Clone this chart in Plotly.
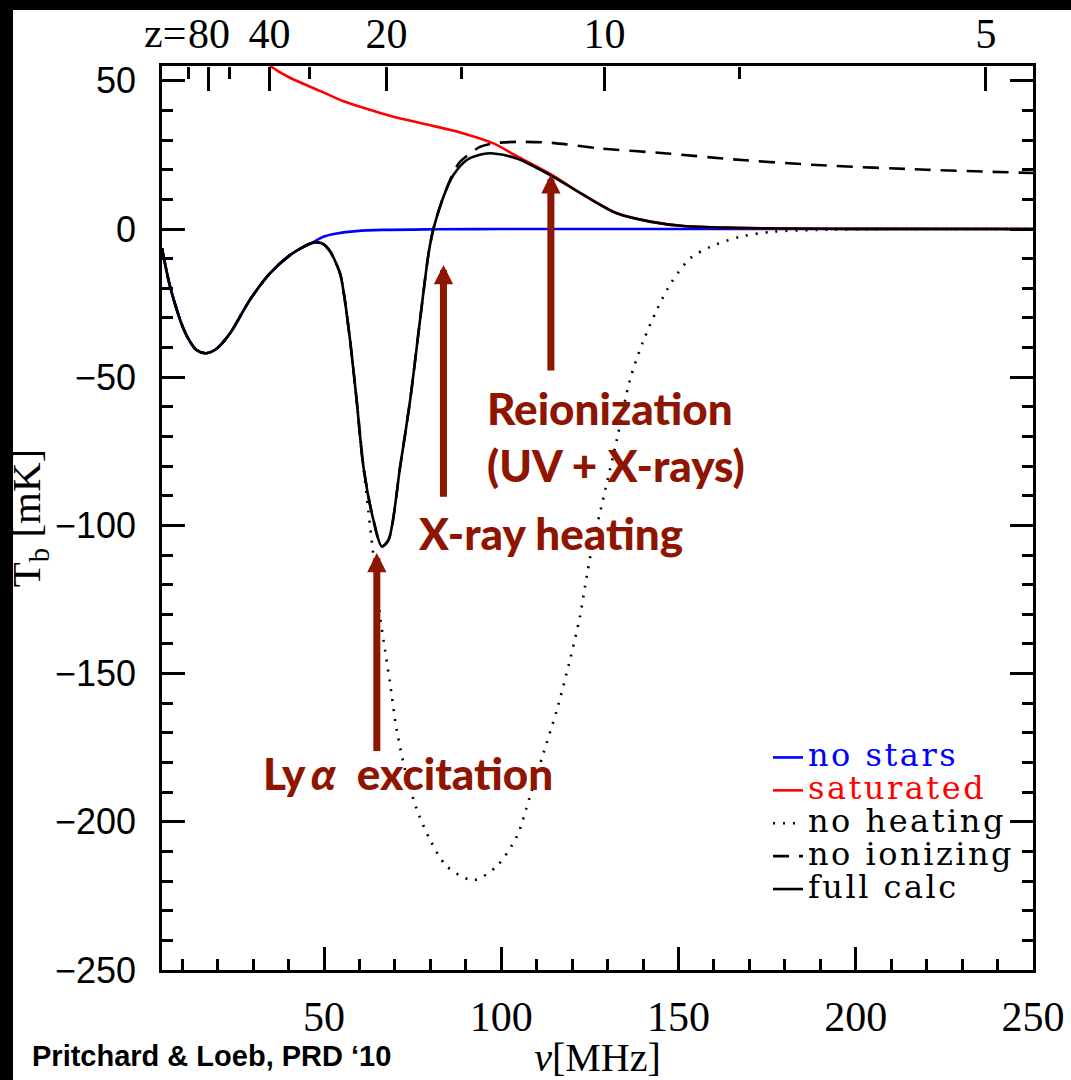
import plotly.graph_objects as go

# ---------------- data ----------------
# full calculation (black solid)
nu_full = [4.3, 6.6, 10.3, 12.2, 14.0, 16.7, 19.7, 23.5, 29.1, 34.8, 40.4, 44.2, 47.0, 49.5,
           51.7, 54.5, 55.5, 57.3, 59.2, 61.1, 63.9, 66.3, 68.2, 71.5, 74.3, 77.2,
           79.5, 80.9, 83.7, 86.5, 90.3, 94.9, 97.8, 104.4, 113.8, 123.2, 132.6,
           142.0, 151.4, 165.5, 180.0, 200.0, 250.0]
T_full = [-6.5, -19.5, -33.5, -38.0, -40.8, -41.9, -40.4, -35.2, -23.9, -14.9, -8.8, -6.0, -4.6, -4.9,
          -7.5, -14.9, -21.0, -37.0, -57.7, -80.0, -98.0, -107.1, -104.9, -80.0, -57.7, -29.6,
          -8.2, 0.2, 10.9, 18.2, 23.3, 25.3, 25.5, 23.8, 18.2, 11.5, 5.3,
          2.5, 1.0, 0.4, 0.15, 0.05, 0.0]

# no stars (blue)
nu_nostars = [4.3, 6.6, 10.3, 12.2, 14.0, 16.7, 19.7, 23.5, 29.1, 34.8, 40.4, 44.2, 47.0,
              49.8, 53.6, 59.2, 66.7, 80.9, 100.0, 150.0, 250.0]
T_nostars = [-6.5, -19.5, -33.5, -38.0, -40.8, -41.9, -40.4, -35.2, -23.9, -14.9, -8.8, -6.0, -4.4,
             -2.6, -1.5, -0.7, -0.3, -0.1, 0.0, 0.0, 0.0]

# saturated (red)
nu_sat = [34.8, 37.0, 40.0, 43.0, 46.1, 50.0, 55.5, 62.0, 69.6, 80.0, 88.4, 97.8, 104.4, 113.8,
          123.2, 132.6, 142.0, 151.4, 165.5, 180.0, 200.0, 250.0]
T_sat = [55.0, 53.3, 51.3, 49.6, 48.0, 46.0, 43.1, 40.6, 37.9, 35.0, 32.6, 28.9, 24.6, 18.6,
         11.5, 5.3, 2.5, 1.0, 0.4, 0.15, 0.05, 0.0]

# no heating (dotted)
nu_noheat = [4.3, 6.6, 10.3, 12.2, 14.0, 16.7, 19.7, 23.5, 29.1, 34.8, 40.4, 44.2, 47.0, 49.5,
             51.7, 54.5, 55.5, 57.3, 59.2, 61.1, 62.5, 63.9, 65.8, 67.2, 68.6, 70.5,
             73.3, 76.2, 79.9, 84.6, 92.1, 98.7, 104.4, 108.1, 111.9, 115.7, 119.4,
             122.2, 124.1, 125.5, 132.6, 136.3, 140.0, 144.0, 148.0, 153.3, 159.0,
             167.4, 176.7, 189.0, 210.0, 250.0]
T_noheat = [-6.5, -19.5, -33.5, -38.0, -40.8, -41.9, -40.4, -35.2, -23.9, -14.9, -8.8, -6.0, -4.6, -4.9,
            -7.5, -14.9, -21.0, -37.0, -57.7, -80.0, -95.0, -110.0, -130.7, -142.0, -153.0, -169.0,
            -184.6, -195.9, -206.0, -215.0, -219.7, -215.0, -204.9, -191.4, -176.8, -162.2, -145.3,
            -130.7, -117.2, -108.2, -71.1, -50.9, -38.0, -27.0, -18.0, -9.9, -6.0,
            -2.6, -0.9, -0.3, 0.0, 0.0]

# no ionizing (dashed)
nu_noion = [4.3, 6.6, 10.3, 12.2, 14.0, 16.7, 19.7, 23.5, 29.1, 34.8, 40.4, 44.2, 47.0, 49.5,
            51.7, 54.5, 55.5, 57.3, 59.2, 61.1, 63.9, 66.3, 68.2, 71.5, 74.3, 77.2,
            79.5, 80.9, 83.7, 86.5, 88.4, 94.0, 97.8, 104.4, 113.8, 127.9, 146.7,
            165.5, 189.0, 220.0, 250.0]
T_noion = [-6.5, -19.5, -33.5, -38.0, -40.8, -41.9, -40.4, -35.2, -23.9, -14.9, -8.8, -6.0, -4.6, -4.9,
           -7.5, -14.9, -21.0, -37.0, -57.7, -80.0, -98.0, -107.1, -104.9, -80.0, -57.7, -29.6,
           -8.2, 0.2, 11.0, 19.0, 22.7, 27.7, 28.9, 29.4, 29.1, 27.2, 25.5,
           23.5, 21.6, 20.0, 18.9]

# axes / ticks
x_tick_vals = [50, 100, 150, 200, 250]
y_tick_vals = [-250, -200, -150, -100, -50, 0, 50]
z_major = [80, 40, 20, 10, 5]
z_major_labels = ["80", "40", "20", "10", "5"]
z_minor = [120, 60, 30, 15, 7.5]

# arrows: (x, tip y, tail y)
arrow_lya = (64.9, -109.3, -176.6)
arrow_xray = (83.7, -12.1, -90.8)
arrow_reion = (114.0, 18.5, -48.2)

NU_MIN, NU_MAX = 4.3, 250
T_MIN, T_MAX = -250, 55
NU21 = 1420.4


def z_to_nu(z):
    return NU21 / (1.0 + z)


DARKRED = "#8e1500"
W = 2.6
LEG = "font-size:32px;letter-spacing:2.5px;"
serif = "Liberation Serif"

fig = go.Figure()
fig.add_trace(go.Scatter(x=nu_nostars, y=T_nostars, mode="lines",
                         line=dict(color="#0000ff", width=W, shape="spline", smoothing=0.8),
                         name=f'<span style="{LEG}color:#0000ff">no stars</span>'))
fig.add_trace(go.Scatter(x=nu_sat, y=T_sat, mode="lines",
                         line=dict(color="#ff0000", width=W, shape="spline", smoothing=0.8),
                         name=f'<span style="{LEG}color:#ff0000">saturated</span>'))
fig.add_trace(go.Scatter(x=nu_noheat, y=T_noheat, mode="lines",
                         line=dict(color="black", width=W, dash="2px,8px", shape="spline", smoothing=0.8),
                         name=f'<span style="{LEG}">no heating</span>'))
fig.add_trace(go.Scatter(x=nu_noion, y=T_noion, mode="lines",
                         line=dict(color="black", width=W, dash="16px,10px", shape="spline", smoothing=0.8),
                         name=f'<span style="{LEG}">no ionizing</span>'))
fig.add_trace(go.Scatter(x=nu_full, y=T_full, mode="lines",
                         line=dict(color="black", width=W, shape="spline", smoothing=0.8),
                         name=f'<span style="{LEG}">full calc</span>'))
# invisible carrier traces so that the redshift (top) axes get drawn
for xa in ("x2", "x3", "x4"):
    fig.add_trace(go.Scatter(x=nu_full, y=T_full, xaxis=xa, mode="lines",
                             line=dict(width=0), opacity=0, showlegend=False, hoverinfo="skip"))

top_common = dict(range=[NU_MIN, NU_MAX], overlaying="x", showgrid=False, zeroline=False,
                  automargin=False, showline=False, tickmode="array")

fig.update_layout(
    width=1071, height=1080,
    margin=dict(l=162, r=38, t=66, b=110),
    paper_bgcolor="white", plot_bgcolor="white",
    showlegend=True,
    legend=dict(x=(768 - 162) / 871, y=(970 - 736) / 904, xanchor="left", yanchor="top",
                bgcolor="rgba(0,0,0,0)", borderwidth=0,
                font=dict(family="DejaVu Serif", size=23, color="black"),
                tracegroupgap=0),
    xaxis=dict(range=[NU_MIN, NU_MAX], tickmode="array", tickvals=x_tick_vals,
               ticks="inside", ticklen=23, tickwidth=2.5, tickcolor="black",
               minor=dict(dtick=10, tick0=0, ticks="inside", ticklen=11, tickwidth=2.5, tickcolor="black"),
               showline=True, linewidth=2.5, linecolor="black", mirror=True,
               showgrid=False, zeroline=False, automargin=False, tickangle=0,
               tickfont=dict(family=serif, size=42, color="black"),
               ticklabelstandoff=8,
               title=dict(text="<i>ν</i>[MHz]", font=dict(family=serif, size=40, color="black"),
                          standoff=18)),
    # redshift labels along the top
    xaxis2=dict(top_common, side="top", anchor="y",
                tickvals=[z_to_nu(z) for z in z_major], ticktext=z_major_labels,
                ticks="", tickangle=0, ticklabelstandoff=9,
                tickfont=dict(family=serif, size=42, color="black")),
    # long redshift ticks hanging down from the top frame
    xaxis3=dict(top_common, side="bottom", anchor="free", position=1.0,
                tickvals=[z_to_nu(z) for z in z_major], showticklabels=False,
                ticks="outside", ticklen=24, tickwidth=2.5, tickcolor="black"),
    # short redshift ticks
    xaxis4=dict(top_common, side="bottom", anchor="free", position=1.0,
                tickvals=[z_to_nu(z) for z in z_minor], showticklabels=False,
                ticks="outside", ticklen=12, tickwidth=2.5, tickcolor="black"),
    yaxis=dict(range=[T_MIN, T_MAX], tickmode="array", tickvals=y_tick_vals,
               ticks="inside", ticklen=23, tickwidth=2.5, tickcolor="black",
               minor=dict(dtick=10, tick0=0, ticks="inside", ticklen=11, tickwidth=2.5, tickcolor="black"),
               showline=True, linewidth=2.5, linecolor="black", mirror="ticks",
               showgrid=False, zeroline=False, automargin=False,
               tickfont=dict(family="Liberation Sans", size=36, color="black"),
               ticklabelstandoff=16,
               title=dict(text="T<sub>b</sub> [mK]", font=dict(family=serif, size=41, color="black"),
                          standoff=0)),
)

# "z=" prefix in front of the first redshift label
fig.add_annotation(x=z_to_nu(z_major[0]), y=(970 - 33) / 904, xref="x", yref="paper",
                   text="z=", showarrow=False, xanchor="right", yanchor="middle", xshift=-21,
                   font=dict(family=serif, size=42, color="black"))

# arrows
for (ax_x, tip, tail) in (arrow_lya, arrow_xray, arrow_reion):
    fig.add_annotation(x=ax_x, y=tip, ax=ax_x, ay=tail, xref="x", yref="y", axref="x", ayref="y",
                       text="", showarrow=True, arrowhead=2, arrowsize=0.55, arrowwidth=7,
                       arrowcolor=DARKRED, standoff=0, startstandoff=0)

lab_font = dict(family="Lato", size=44, color=DARKRED, weight=900)
fig.add_annotation(x=95.4, y=-70.1, xref="x", yref="y", text="Reionization<br>(UV + X-rays)",
                   showarrow=False, xanchor="left", yanchor="middle", align="left", font=lab_font)
fig.add_annotation(x=114.0, y=-102.4, xref="x", yref="y", text="X-ray heating",
                   showarrow=False, xanchor="center", yanchor="middle", font=lab_font)
fig.add_annotation(x=73.8, y=-183.5, xref="x", yref="y", text="Ly\u2009<i>α</i>  excitation",
                   showarrow=False, xanchor="center", yanchor="middle", font=lab_font)

# credit
fig.add_annotation(x=(30 - 162) / 871, y=(970 - 1056) / 904, xref="paper", yref="paper",
                   text="<b>Pritchard &amp; Loeb, PRD ‘10</b>", showarrow=False,
                   xanchor="left", yanchor="middle",
                   font=dict(family="Liberation Sans", size=29, color="black"))

# black frame (slide background at the edges)
fig.add_shape(type="rect", xref="paper", yref="paper", x0=-1, x1=(13 - 162) / 871, y0=-1, y1=2,
              fillcolor="black", line=dict(width=0), layer="above")
fig.add_shape(type="rect", xref="paper", yref="paper", x0=-1, x1=2, y0=(970 - 10) / 904, y1=2,
              fillcolor="black", line=dict(width=0), layer="above")

fig.write_html("out.html", config={"displayModeBar": False},
               post_script="document.body.style.margin='0';")
